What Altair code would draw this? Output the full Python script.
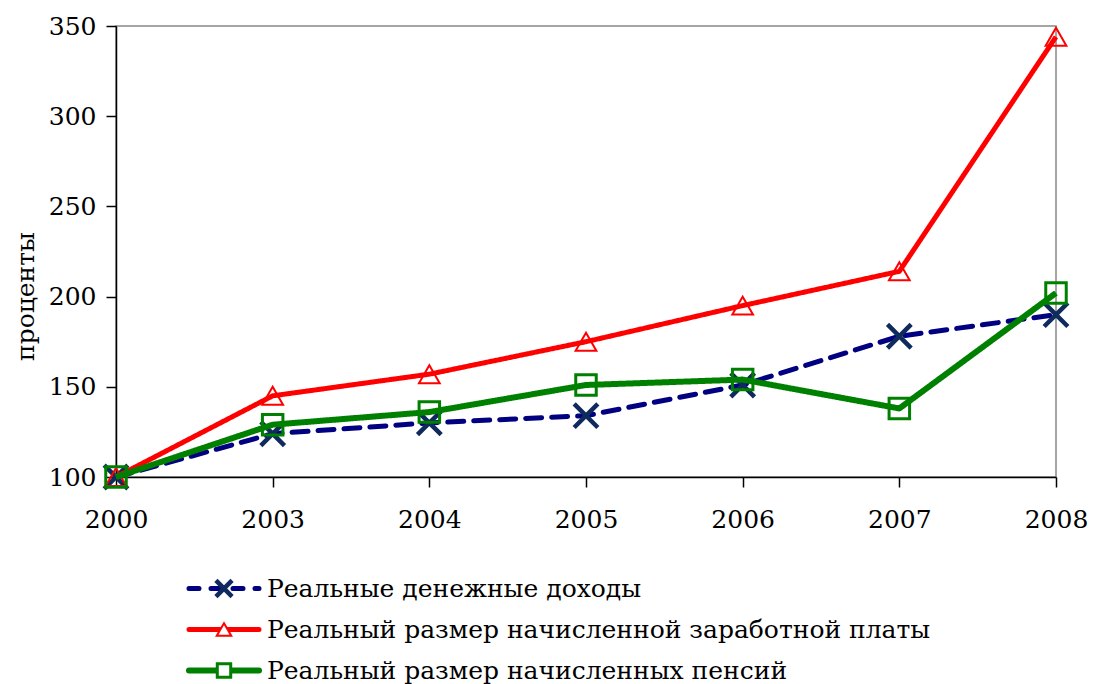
import altair as alt
import pandas as pd

years = ["2000", "2003", "2004", "2005", "2006", "2007", "2008"]
income = [100, 124, 130, 134, 151, 178, 190]
wage = [100, 145, 157, 175, 195, 214, 344]
pension = [100, 129, 136, 151, 154, 138, 202]

names = [
    "Реальные денежные доходы",
    "Реальный размер начисленной заработной платы",
    "Реальный размер начисленных пенсий",
]
values = [income, wage, pension]
colors = ["#000080", "#FF0000", "#008000"]
marker_colors = ["#0F2A5C", "#FF0000", "#008000"]
X_PATH = "M-1,-1L1,1M-1,1L1,-1"
shapes = [X_PATH, "triangle-up", "square"]
marker_sizes = [560, 430, 420]
legend_marker_sizes = [260, 210, 180]
marker_widths = [4.5, 2, 3]
line_widths = [5, 5, 6]
dashes = [[16, 10], [1, 0], [1, 0]]

FONT = "DejaVu Serif"
FS = 25

rows = []
for n, vals in zip(names, values):
    for y, v in zip(years, vals):
        rows.append({"series": n, "year": y, "value": v})
df = pd.DataFrame(rows)

x_enc = alt.X(
    "year:O",
    sort=years,
    scale=alt.Scale(type="point", padding=0),
    axis=alt.Axis(
        title=None, labelAngle=0, labelFontSize=FS, labelFont=FONT,
        labelColor="black", domainColor="black", tickColor="black",
        tickSize=10, labelPadding=20, domainWidth=1.5, tickWidth=1.5,
    ),
)
y_enc = alt.Y(
    "value:Q",
    scale=alt.Scale(domain=[100, 350], nice=False, zero=False),
    axis=alt.Axis(
        values=[100, 150, 200, 250, 300, 350], grid=False,
        title="проценты", titleFont=FONT, titleFontSize=FS,
        titleFontWeight="normal", titleColor="black",
        titleX=-91, titleY=270, titleAngle=270, titleAlign="center",
        titleBaseline="middle",
        labelFontSize=FS, labelFont=FONT, labelColor="black",
        domainColor="black", tickColor="black", tickSize=10,
        labelPadding=10, domainWidth=1.5, tickWidth=1.5,
    ),
)

layers = []
for i, n in enumerate(names):
    sub = alt.Chart(df).transform_filter(alt.datum.series == n)
    line = sub.mark_line(
        color=colors[i], strokeWidth=line_widths[i],
        strokeDash=dashes[i], strokeCap="round" if i == 0 else "butt",
        strokeJoin="round",
    ).encode(x=x_enc, y=y_enc)
    pt = sub.mark_point(
        shape=shapes[i], size=marker_sizes[i], filled=False,
        color=marker_colors[i], strokeWidth=marker_widths[i], opacity=1,
    ).encode(x=x_enc, y=y_enc)
    layers += [line, pt]

main = alt.layer(*layers).properties(
    width=940, height=451,
    view=alt.ViewBackground(stroke="#888888", strokeWidth=1.5),
)

leg_df = pd.DataFrame({"series": names})
leg_y = alt.Y("series:N", sort=names, axis=None,
              scale=alt.Scale(paddingInner=0, paddingOuter=0))
leg_layers = []
for i, n in enumerate(names):
    s = alt.Chart(leg_df).transform_filter(alt.datum.series == n)
    leg_layers.append(
        s.mark_rule(color=colors[i], strokeWidth=line_widths[i],
                    strokeDash=[10, 12] if i == 0 else [1, 0],
                    strokeCap="round").encode(
            x=alt.value(73), x2=alt.value(143), y=leg_y)
    )
    if i == 0:
        leg_layers.append(
            s.mark_point(shape=shapes[i], size=legend_marker_sizes[i], filled=False,
                         color=marker_colors[i], strokeWidth=marker_widths[i],
                         opacity=1).encode(x=alt.value(108), y=leg_y)
        )
    else:
        leg_layers.append(
            s.mark_point(shape=shapes[i], size=legend_marker_sizes[i], filled=True,
                         fill="white", stroke=marker_colors[i],
                         strokeWidth=marker_widths[i], opacity=1).encode(
                x=alt.value(108), y=leg_y)
        )
leg_layers.append(
    alt.Chart(leg_df).mark_text(
        align="left", baseline="middle", font=FONT, fontSize=FS, color="black"
    ).encode(x=alt.value(151), y=leg_y, text="series:N")
)
legend = alt.layer(*leg_layers).properties(
    width=940, height=123, view=alt.ViewBackground(strokeOpacity=0)
)

chart = alt.vconcat(main, legend, spacing=35).properties(
    padding={"left": 4, "top": 5, "right": 0, "bottom": 0}
).configure(font=FONT)

chart.save("out.html", embed_options={"renderer": "svg", "actions": False})
